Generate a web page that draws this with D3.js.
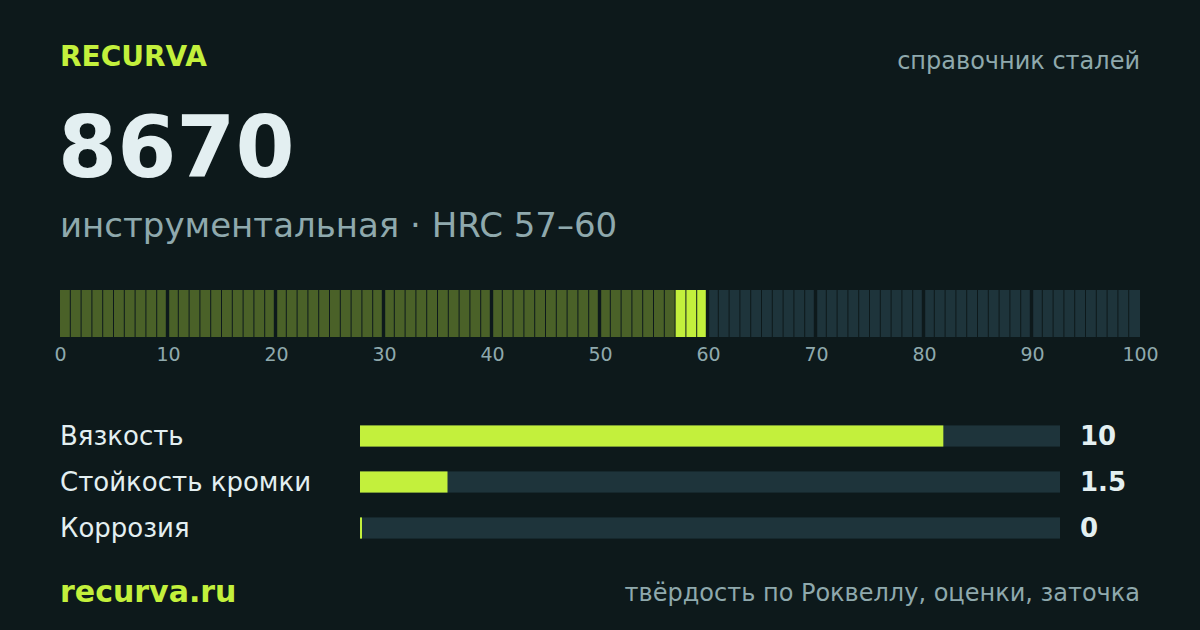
<!DOCTYPE html>
<html><head><meta charset="utf-8">
<script src="https://cdn.jsdelivr.net/npm/d3@7"></script>
<style>html,body{margin:0;padding:0;background:#0d191b;}svg{display:block;font-family:"DejaVu Sans",sans-serif;}</style>
</head><body><svg id="c" width="1200" height="630"></svg>
<script>
const brand = "RECURVA";
const topRight = "справочник сталей";
const steelName = "8670";
const subtitle = "инструментальная · HRC 57–60";
const hrcRange = [57, 60];
const scaleTicks = [0, 10, 20, 30, 40, 50, 60, 70, 80, 90, 100];
const metricNames = ["Вязкость", "Стойкость кромки", "Коррозия"];
const metricValues = [10, 1.5, 0];
const metricLabels = ["10", "1.5", "0"];
const metricMax = 12;
const footerLeft = "recurva.ru";
const footerRight = "твёрдость по Роквеллу, оценки, заточка";

const C = {bg:"#0d191b", lime:"#c3f03c", olive:"#4a6128", track:"#1e343b", white:"#e3eff1", muted:"#8fa9ad"};
const svg = d3.select("#c");
svg.append("rect").attr("width",1200).attr("height",630).attr("fill",C.bg);

svg.append("text").attr("x",60).attr("y",66).attr("fill",C.lime).attr("font-size",28).attr("font-weight","bold").text(brand);
svg.append("text").attr("x",1140).attr("y",69).attr("text-anchor","end").attr("fill",C.muted).attr("font-size",24).text(topRight);
svg.append("text").attr("x",58).attr("y",177).attr("fill",C.white).attr("font-size",85).attr("font-weight","bold").text(steelName);
svg.append("text").attr("x",60).attr("y",237).attr("fill",C.muted).attr("font-size",34).text(subtitle);

// HRC strip
const x = d3.scaleLinear().domain([0,100]).range([60,1140]);
const cells = d3.range(0,100);
const step = x(1)-x(0);
svg.append("g").selectAll("rect").data(cells).join("rect")
  .attr("x", d => x(d) + (d%10===0 && d>0 ? 1.2 : 0))
  .attr("y", 290)
  .attr("width", d => d === 99 ? step : step - 1 - (d%10===0 && d>0 ? 1.2 : 0) - (d%10===9 ? 1.2 : 0))
  .attr("height", 47)
  .attr("fill", d => d >= hrcRange[0] && d < hrcRange[1] ? C.lime : (d < hrcRange[0] ? C.olive : C.track));

const axis = d3.axisBottom(x).tickValues(scaleTicks).tickSize(0).tickPadding(0);
const ag = svg.append("g").attr("transform","translate(0,347)").call(axis);
ag.select(".domain").remove();
ag.selectAll("text").attr("fill",C.muted).attr("font-size",19).attr("font-family","DejaVu Sans, sans-serif").attr("dy","0.71em");

// metric bars
const bx = d3.scaleLinear().domain([0,metricMax]).range([360,1060]);
const by = d3.scaleBand().domain(metricNames).range([413,551]).paddingInner(0.54).paddingOuter(0.27);
const mg = svg.append("g");
metricNames.forEach((n,i) => {
  const y = by(n), h = by.bandwidth();
  mg.append("rect").attr("x",bx(0)).attr("y",y).attr("width",bx(metricMax)-bx(0)).attr("height",h).attr("fill",C.track);
  mg.append("rect").attr("x",bx(0)).attr("y",y).attr("width",Math.max(2,bx(metricValues[i])-bx(0))).attr("height",h).attr("fill",C.lime);
  mg.append("text").attr("x",60).attr("y",y+h/2).attr("dy","0.35em").attr("fill",C.white).attr("font-size",26).text(n);
  mg.append("text").attr("x",1080).attr("y",y+h/2).attr("dy","0.35em").attr("fill",C.white).attr("font-size",26).attr("font-weight","bold").text(metricLabels[i]);
});

svg.append("text").attr("x",60).attr("y",602).attr("fill",C.lime).attr("font-size",30).attr("font-weight","bold").text(footerLeft);
svg.append("text").attr("x",1140).attr("y",601).attr("text-anchor","end").attr("fill",C.muted).attr("font-size",24).text(footerRight);
</script></body></html>
